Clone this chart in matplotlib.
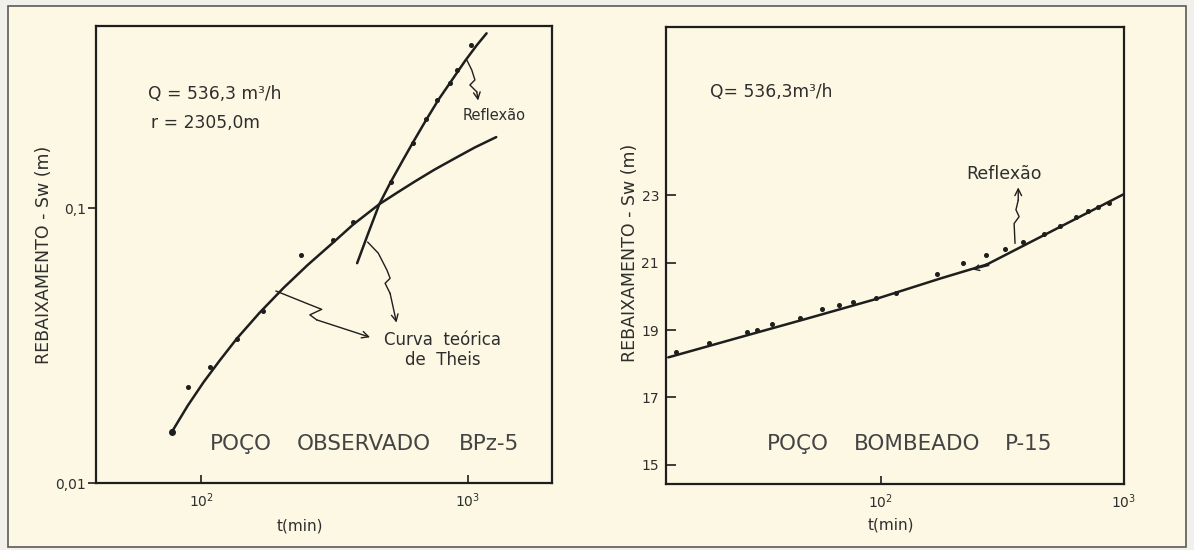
import matplotlib
matplotlib.use('Agg')
import matplotlib.pyplot as plt
from matplotlib.patches import Rectangle
from matplotlib.ticker import FixedLocator, NullLocator

paper = '#fcf8e3'
ink = '#1e1e1e'
lettering = '#2e2e2e'

# ---- left panel: Poço observado BPz-5 (log-log) ----
theis_t = [77.6, 89.1, 102.3, 117.5, 136.1, 166, 204, 251, 313, 371.5, 465.6, 545, 631, 750, 891, 1060, 1276]
theis_s = [0.0153, 0.0191, 0.0233, 0.0279, 0.0335, 0.0417, 0.0513, 0.0621, 0.0750,
           0.0871, 0.1033, 0.1140, 0.1247, 0.1380, 0.1514, 0.1660, 0.1811]

refl_t = [384.3, 421.4, 465.4, 514, 567.6, 620, 696.6, 776.6, 871, 978.6, 1081, 1174]
refl_s = [0.0630, 0.0802, 0.1033, 0.1246, 0.148, 0.1722, 0.2089, 0.2483, 0.292, 0.3444, 0.3918, 0.4318]

obs_t = [77.8, 89.4, 108, 136.5, 170, 237, 313, 372, 515, 622, 699, 766, 859, 910, 1030]
obs_s = [0.01545, 0.0223, 0.0264, 0.0333, 0.0422, 0.0675, 0.0766, 0.0887,
         0.1245, 0.172, 0.211, 0.248, 0.285, 0.318, 0.391]

# ---- right panel: Poço bombeado P-15 (semi-log) ----
pump_t = [14.4, 19.6, 28.1, 31.1, 35.8, 46.6, 57.5, 67.5, 77.1, 95.4, 115.6, 169.8,
          217.3, 270.5, 324, 385, 469, 547, 636, 708, 780, 869]
pump_s = [18.34, 18.61, 18.95, 19.00, 19.17, 19.37, 19.63, 19.74, 19.82, 19.96, 20.11, 20.66,
          20.98, 21.22, 21.40, 21.63, 21.84, 22.09, 22.36, 22.53, 22.66, 22.78]

fit1_t = [13.4, 26.5, 49.7, 93.3, 175.4, 276.7]
fit1_s = [18.19, 18.79, 19.34, 19.90, 20.53, 20.96]
fit2_t = [270, 1000]
fit2_s = [20.93, 23.04]

fig = plt.figure(figsize=(11.94, 5.5), dpi=100, facecolor='#f1f0ea')
fig.patches.append(Rectangle((8 / 1194, 3 / 550), 1178 / 1194, 541 / 550,
                             transform=fig.transFigure, facecolor=paper,
                             edgecolor='#5a5a5a', lw=1.2, zorder=-10))


def style_axes(ax):
    ax.set_facecolor('none')
    for sp in ax.spines.values():
        sp.set_linewidth(1.6)
        sp.set_color(ink)


def wiggle(ax, xs, ys):
    # hand-drawn zigzag arrow, given in axes fractions
    ax.plot(xs[:-1], ys[:-1], color=ink, lw=1.0, transform=ax.transAxes, clip_on=False)
    ax.annotate('', xy=(xs[-1], ys[-1]), xytext=(xs[-2], ys[-2]),
                xycoords='axes fraction', textcoords='axes fraction',
                arrowprops=dict(arrowstyle='->', color=ink, lw=1.0, mutation_scale=12,
                                shrinkA=0, shrinkB=0))


def spaced_words(ax, words, xs, y, size):
    for w, x in zip(words, xs):
        ax.text(x, y, w, transform=ax.transAxes, fontsize=size,
                ha='center', va='center', color='#444444')


# left
ax1 = fig.add_axes([0.0804, 0.1218, 0.3819, 0.8309])
style_axes(ax1)
ax1.set_xscale('log')
ax1.set_yscale('log')
ax1.set_xlim(40.4, 2064)
ax1.set_ylim(0.01, 0.459)
ax1.plot(theis_t, theis_s, color=ink, lw=1.8, solid_capstyle='round')
ax1.plot(refl_t, refl_s, color=ink, lw=1.8, solid_capstyle='round')
ax1.plot(obs_t, obs_s, 'o', color=ink, ms=2.6)
ax1.plot(theis_t[0], theis_s[0], 'o', color=ink, ms=4)
ax1.xaxis.set_major_locator(FixedLocator([100, 1000]))
ax1.xaxis.set_minor_locator(NullLocator())
ax1.set_xticklabels([r'$\mathregular{10^2}$', r'$\mathregular{10^3}$'])
ax1.yaxis.set_major_locator(FixedLocator([0.01, 0.1]))
ax1.yaxis.set_minor_locator(NullLocator())
ax1.set_yticklabels(['0,01', '0,1'])
ax1.tick_params(axis='x', direction='in', length=6, width=1.3, pad=6, labelsize=10, colors=lettering)
ax1.tick_params(axis='y', direction='out', length=6, width=1.3, pad=1, labelsize=10, colors=lettering)
ax1.set_xlabel('t(min)', fontsize=11, color=lettering)
ax1.xaxis.set_label_coords(0.447, -0.077)
ax1.set_ylabel('REBAIXAMENTO - Sw (m)', fontsize=12.5, color=lettering)
ax1.yaxis.set_label_coords(-0.095, 0.5)

ax1.text(0.114, 0.851, 'Q = 536,3 m³/h', transform=ax1.transAxes, fontsize=12.3,
         va='center', color=lettering)
ax1.text(0.121, 0.788, 'r = 2305,0m', transform=ax1.transAxes, fontsize=12.3,
         va='center', color=lettering)
ax1.text(0.805, 0.805, 'Reflexão', transform=ax1.transAxes, fontsize=10.5,
         va='center', color=lettering)
ax1.text(0.76, 0.291, 'Curva  teórica\nde  Theis', transform=ax1.transAxes, fontsize=12,
         ha='center', va='center', linespacing=1.1, color=lettering)
spaced_words(ax1, ['POÇO', 'OBSERVADO', 'BPz-5'], [0.318, 0.588, 0.862], 0.085, 15.5)

wiggle(ax1, [0.395, 0.462, 0.495, 0.469, 0.484, 0.601],
       [0.420, 0.393, 0.380, 0.368, 0.357, 0.319])
wiggle(ax1, [0.596, 0.619, 0.638, 0.645, 0.634, 0.645, 0.659],
       [0.527, 0.503, 0.466, 0.448, 0.437, 0.415, 0.351])
wiggle(ax1, [0.813, 0.824, 0.831, 0.820, 0.835, 0.838],
       [0.926, 0.904, 0.882, 0.871, 0.856, 0.837])

# right
ax2 = fig.add_axes([0.5578, 0.12, 0.3836, 0.8309])
style_axes(ax2)
ax2.set_xscale('log')
ax2.set_xlim(13.11, 1000)
ax2.set_ylim(14.43, 28.0)
ax2.plot(fit1_t, fit1_s, color=ink, lw=1.8, solid_capstyle='round')
ax2.plot(fit2_t, fit2_s, color=ink, lw=1.8, solid_capstyle='round')
ax2.plot(pump_t, pump_s, 'o', color=ink, ms=2.6)
ax2.annotate('', xy=(238, 20.80), xytext=(278, 20.92),
             arrowprops=dict(arrowstyle='->', color=ink, lw=1.0, mutation_scale=10,
                             shrinkA=0, shrinkB=0))
ax2.xaxis.set_major_locator(FixedLocator([100, 1000]))
ax2.xaxis.set_minor_locator(NullLocator())
ax2.set_xticklabels([r'$\mathregular{10^2}$', r'$\mathregular{10^3}$'])
ax2.yaxis.set_major_locator(FixedLocator([15, 17, 19, 21, 23]))
ax2.set_yticklabels(['15', '17', '19', '21', '23'])
ax2.tick_params(axis='x', direction='in', length=6, width=1.3, pad=6, labelsize=10, colors=lettering)
ax2.tick_params(axis='y', direction='in', length=7, width=1.3, pad=5, labelsize=10, colors=lettering)
ax2.set_xlabel('t(min)', fontsize=11, color=lettering)
ax2.xaxis.set_label_coords(0.491, -0.074)
ax2.set_ylabel('REBAIXAMENTO - Sw (m)', fontsize=12.5, color=lettering)
ax2.yaxis.set_label_coords(-0.058, 0.505)

ax2.text(0.096, 0.858, 'Q= 536,3m³/h', transform=ax2.transAxes, fontsize=12.3,
         va='center', color=lettering)
ax2.text(0.655, 0.678, 'Reflexão', transform=ax2.transAxes, fontsize=12.5,
         va='center', color=lettering)
spaced_words(ax2, ['POÇO', 'BOMBEADO', 'P-15'], [0.288, 0.549, 0.792], 0.0875, 15.5)
wiggle(ax2, [0.762, 0.760, 0.771, 0.764, 0.769, 0.769],
       [0.527, 0.570, 0.585, 0.600, 0.621, 0.649])

fig.savefig('out.png', dpi=100, facecolor=fig.get_facecolor())
